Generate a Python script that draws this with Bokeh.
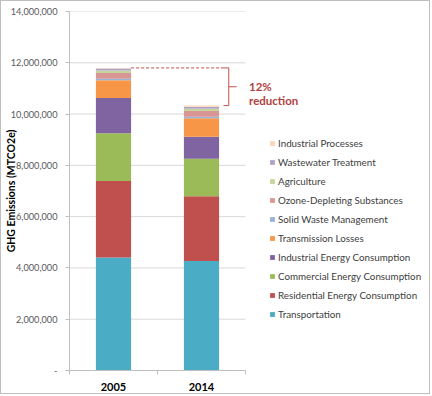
from bokeh.plotting import figure
from bokeh.models import (ColumnDataSource, Range1d, FixedTicker, NumeralTickFormatter,
                          Legend, LegendItem, Label)
from bokeh.embed import file_html
from bokeh.resources import INLINE

years = ["2005", "2014"]
sectors = ["Transportation", "Residential Energy Consumption", "Commercial Energy Consumption",
           "Industrial Energy Consumption", "Transmission Losses", "Solid Waste Management",
           "Ozone-Depleting Substances", "Agriculture", "Wastewater Treatment", "Industrial Processes"]
transportation = [4410000, 4270000]
residential = [2980000, 2530000]
commercial = [1860000, 1460000]
industrial_energy = [1380000, 860000]
transmission = [690000, 720000]
solid_waste = [60000, 60000]
ozone_depleting = [220000, 220000]
agriculture = [100000, 90000]
wastewater = [80000, 80000]
industrial_processes = [20000, 40000]
colors = ["#4BACC6", "#C0504D", "#9BBB59", "#8064A2", "#F79646", "#95B3D7",
          "#D99694", "#C3D69B", "#B3A2C7", "#FCD5B5"]
y_ticks = [0, 2000000, 4000000, 6000000, 8000000, 10000000, 12000000, 14000000]

series = [transportation, residential, commercial, industrial_energy, transmission,
          solid_waste, ozone_depleting, agriculture, wastewater, industrial_processes]
ncat = len(years)
xpos = [i + 0.5 for i in range(ncat)]
data = {"x": xpos}
for name, vals in zip(sectors, series):
    data[name] = vals
source = ColumnDataSource(data)

FONT = "Lato"
p = figure(frame_width=352, frame_height=359, output_backend="svg", toolbar_location=None,
           x_range=Range1d(0, 2 * ncat), y_range=Range1d(0, 14000000),
           min_border_top=10, min_border_left=0, min_border_right=8, min_border_bottom=22)
p.outline_line_color = None
p.background_fill_color = "white"
p.styles = {"border": "1px solid #bfbfbf"}

# horizontal gridlines over the category area only
p.xgrid.grid_line_color = None
p.ygrid.grid_line_color = None
p.segment(x0=[0] * len(y_ticks), x1=[ncat] * len(y_ticks), y0=y_ticks, y1=y_ticks,
          line_color="#d9d9d9", line_width=1, level="underlay")

renderers = p.vbar_stack(sectors, x="x", width=0.4, color=colors, source=source, line_width=0)

# axes
p.xaxis.bounds = (0, ncat)
p.xaxis.ticker = FixedTicker(ticks=xpos, minor_ticks=list(range(ncat + 1)))
p.xaxis.major_label_overrides = {x: y for x, y in zip(xpos, years)}
p.xaxis.major_tick_line_color = None
p.xaxis.major_tick_in = 0
p.xaxis.major_tick_out = 0
p.xaxis.minor_tick_in = 0
p.xaxis.minor_tick_out = 4
p.xaxis.minor_tick_line_color = "#bfbfbf"
p.xaxis.axis_line_color = "#bfbfbf"
p.xaxis.major_label_standoff = 8
p.xaxis.major_label_text_font = FONT
p.xaxis.major_label_text_font_style = "bold"
p.xaxis.major_label_text_font_size = "11px"
p.xaxis.major_label_text_color = "#000000"

p.yaxis.ticker = FixedTicker(ticks=y_ticks, minor_ticks=[])
p.yaxis.formatter = NumeralTickFormatter(format="0,0")
p.yaxis.major_label_overrides = {0: "-"}
p.yaxis.axis_line_color = "#bfbfbf"
p.yaxis.major_tick_line_color = "#bfbfbf"
p.yaxis.major_tick_in = 0
p.yaxis.major_tick_out = 4
p.yaxis.major_label_standoff = 8
p.yaxis.major_label_text_font = FONT
p.yaxis.major_label_text_font_size = "9.2px"
p.yaxis.major_label_text_color = "#595959"
p.yaxis.axis_label = "GHG Emissions (MTCO2e)"
p.yaxis.axis_label_text_font = FONT
p.yaxis.axis_label_text_font_style = "bold"
p.yaxis.axis_label_text_font_size = "10.5px"
p.yaxis.axis_label_text_color = "#000000"
p.yaxis.axis_label_standoff = -9

# reduction annotation
tot05 = sum(s[0] for s in series)
tot14 = sum(s[1] for s in series)
mid = (tot05 + tot14) / 2
line_col = "#C0504D"
text_col = "#B0413E"
p.line(x=[0.7, 1.72], y=[tot05, tot05], line_color=line_col, line_dash="3 2", line_width=1)
p.line(x=[1.72, 1.81, 1.81, 1.75], y=[tot05, tot05, tot14, tot14], line_color=line_col, line_width=1)
p.line(x=[1.81, 1.9], y=[mid, mid], line_color=line_col, line_width=1)
pct = round((1 - tot14 / tot05) * 100)
p.add_layout(Label(x=2.04, y=mid, text=f"{pct}%", text_font=FONT, text_font_style="bold",
                   text_font_size="11.5px", text_color=text_col, text_baseline="middle"))
p.add_layout(Label(x=2.04, y=mid, y_offset=-14, text="reduction", text_font=FONT,
                   text_font_style="bold", text_font_size="11.5px", text_color=text_col,
                   text_baseline="middle"))

items = [LegendItem(label=s, renderers=[r]) for s, r in zip(sectors, renderers)][::-1]
legend = Legend(items=items, location=(200, 50), label_text_font=FONT, label_text_font_size="9.8px",
                label_text_color="#404040", glyph_width=6, glyph_height=6, label_height=13,
                spacing=6, padding=0, margin=0, border_line_color=None,
                background_fill_alpha=0, label_standoff=3)
p.add_layout(legend, "center")

open("out.html", "w").write(file_html(p, INLINE))
